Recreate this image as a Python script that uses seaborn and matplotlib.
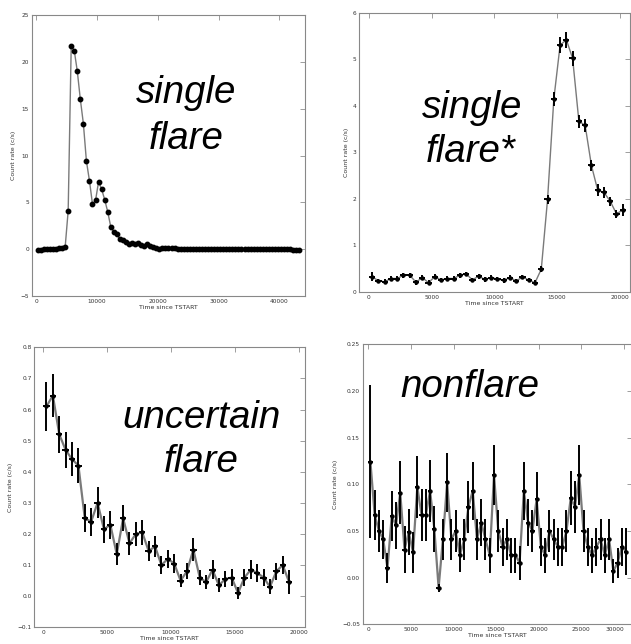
import numpy as np
import pandas as pd
import matplotlib
matplotlib.use("Agg")
import matplotlib.pyplot as plt
import seaborn as sns

# ---------------- data ----------------
# panel 1: single flare (500 s bins)
t1 = np.arange(250, 43251, 500)
rate1 = [-0.10, -0.05, 0.00, 0.00, 0.05, 0.00, 0.00, 0.10, 0.10, 0.20,
         4.10, 21.7, 21.2, 19.0, 16.0, 13.4, 9.4, 7.3, 4.8, 5.2,
         7.2, 6.4, 5.3, 4.0, 2.4, 1.85, 1.6, 1.05, 1.0, 0.75,
         0.60, 0.65, 0.60, 0.70, 0.45, 0.35, 0.55, 0.30, 0.20, 0.10,
         0.05,
         0.10, 0.10, 0.10, 0.10, 0.08, 0.05, 0.05, 0.05, 0.05, 0.05,
         0.05, 0.05, 0.05, 0.05, 0.03, 0.05, 0.05, 0.03, 0.03, 0.03,
         0.03, 0.05, 0.03, 0.03, 0.03, 0.00, 0.03, 0.03, 0.03, 0.03,
         0.03, 0.03, 0.03, 0.03, 0.03, 0.03, 0.03, 0.03, 0.02, 0.02,
         0.02, 0.00, 0.00, -0.05, -0.05, -0.10]

# panel 2: single flare*
t2 = np.arange(250, 20251, 500)
rate2 = [0.33, 0.24, 0.22, 0.29, 0.29, 0.36, 0.36, 0.21, 0.31, 0.20,
         0.33, 0.26, 0.29, 0.29, 0.36, 0.39, 0.26, 0.34, 0.27, 0.31,
         0.28, 0.25, 0.31, 0.24, 0.32, 0.26, 0.20, 0.49, 1.99, 4.14,
         5.30, 5.42, 5.02, 3.67, 3.58, 2.72, 2.19, 2.14, 1.95, 1.68, 1.76]
err2 = [0.10, 0.05, 0.05, 0.05, 0.05, 0.05, 0.05, 0.05, 0.05, 0.05,
        0.05, 0.05, 0.05, 0.05, 0.05, 0.05, 0.05, 0.05, 0.05, 0.05,
        0.05, 0.05, 0.05, 0.05, 0.05, 0.05, 0.05, 0.06, 0.10, 0.15,
        0.17, 0.17, 0.16, 0.14, 0.14, 0.12, 0.12, 0.11, 0.10, 0.08, 0.12]

# panel 3: uncertain flare
t3 = np.arange(250, 19251, 500)
rate3 = [0.61, 0.645, 0.52, 0.47, 0.44, 0.42, 0.25, 0.24, 0.30, 0.215,
         0.23, 0.135, 0.25, 0.17, 0.20, 0.205, 0.145, 0.16, 0.10, 0.12,
         0.105, 0.05, 0.08, 0.15, 0.06, 0.045, 0.085, 0.035, 0.055, 0.06,
         0.01, 0.06, 0.085, 0.075, 0.06, 0.03, 0.08, 0.10, 0.045]
err3 = [0.08, 0.07, 0.06, 0.057, 0.055, 0.055, 0.045, 0.045, 0.05, 0.043,
        0.045, 0.035, 0.042, 0.037, 0.04, 0.04, 0.033, 0.035, 0.03, 0.03,
        0.03, 0.022, 0.026, 0.036, 0.025, 0.022, 0.03, 0.022, 0.025, 0.027,
        0.02, 0.027, 0.03, 0.03, 0.028, 0.024, 0.028, 0.03, 0.038]

# panel 4: nonflare
t4 = np.arange(250, 30251, 500)
rate4 = [0.124, 0.067, 0.050, 0.041, 0.010, 0.066, 0.056, 0.091, 0.030, 0.049,
         0.027, 0.097, 0.067, 0.067, 0.093, 0.052, -0.011, 0.041, 0.102, 0.041,
         0.050, 0.024, 0.041, 0.076, 0.093, 0.041, 0.059, 0.041, 0.024, 0.110,
         0.050, 0.033, 0.041, 0.024, 0.024, 0.016, 0.093, 0.059, 0.050, 0.084,
         0.033, 0.024, 0.050, 0.041, 0.033, 0.033, 0.050, 0.085, 0.076, 0.110,
         0.050, 0.033, 0.024, 0.033, 0.041, 0.024, 0.041, 0.007, 0.016, 0.033,
         0.028]
err4 = [0.082, 0.027, 0.023, 0.021, 0.016, 0.027, 0.025, 0.034, 0.025, 0.025,
        0.022, 0.033, 0.028, 0.028, 0.033, 0.025, 0.004, 0.022, 0.032, 0.022,
        0.023, 0.018, 0.022, 0.028, 0.031, 0.022, 0.025, 0.022, 0.019, 0.032,
        0.023, 0.020, 0.022, 0.019, 0.019, 0.018, 0.031, 0.025, 0.023, 0.029,
        0.020, 0.019, 0.023, 0.022, 0.020, 0.020, 0.023, 0.029, 0.028, 0.032,
        0.023, 0.020, 0.019, 0.020, 0.022, 0.019, 0.022, 0.013, 0.016, 0.020,
        0.025]

labels = ["single\nflare", "single\nflare*", "uncertain\nflare", "nonflare"]

# ---------------- style ----------------
sns.set_style("white")
plt.rcParams['font.family'] = ['DejaVu Sans']

W, H = 631, 644
fig = plt.figure(figsize=(W / 100, H / 100), dpi=100)

def add_ax(l, r, t, b):
    return fig.add_axes([l / W, 1 - b / H, (r - l) / W, (b - t) / H])

axes = [add_ax(32, 305, 15, 296), add_ax(359.3, 630, 12.7, 292),
        add_ax(34.3, 305.3, 347.3, 627.3), add_ax(362.7, 631.5, 344.3, 624.3)]

panels = [
    (t1, rate1, None, (-700, 44200), (-5, 25), np.arange(-5, 26, 5), np.arange(0, 40001, 10000), 1.0),
    (t2, rate2, err2, (-774, 20830), (0, 6), np.arange(0, 7, 1), np.arange(0, 20001, 5000), 1.0),
    (t3, rate3, err3, (-705, 20517), (-0.1, 0.8), np.arange(-0.1, 0.81, 0.1), np.arange(0, 20001, 5000), 1.6),
    (t4, rate4, err4, (-656, 30880), (-0.05, 0.25), np.arange(-0.05, 0.26, 0.05), np.arange(0, 30001, 5000), 1.6),
]

for ax, (t, r, e, xl, yl, yt, xt, lw) in zip(axes, panels):
    df = pd.DataFrame({"t": t, "rate": r})
    sns.lineplot(data=df, x="t", y="rate", ax=ax, color="#7a7a7a", linewidth=lw,
                 errorbar=None, zorder=2)
    if e is None:
        ax.errorbar(t, r, xerr=250, fmt='o', color='black', ms=3.2, elinewidth=0.8,
                    capsize=0, zorder=3)
    else:
        ax.errorbar(t, r, xerr=250, yerr=e, fmt='o', color='black', ms=2.2,
                    elinewidth=1.4, capsize=0, zorder=3)
    ax.set_xlim(*xl)
    ax.set_ylim(*yl)
    ax.set_yticks(yt)
    ax.set_xticks(xt)
    ax.tick_params(direction='in', top=True, right=True, length=3.5, width=0.5,
                   labelsize=4.2, colors='#777777', labelcolor='#333333', pad=2)
    for s in ax.spines.values():
        s.set_color('#888888')
        s.set_linewidth(0.8)
    ax.set_xlabel("Time since TSTART", fontsize=4.5, color='#333333', labelpad=1)
    ax.set_ylabel("Count rate (c/s)", fontsize=4.5, color='#333333', labelpad=3)

# keep the last tick label of the right-hand panel inside the figure
fig.canvas.draw()
last = axes[3].get_xticklabels()[-1]
last.set_horizontalalignment('right')

# big italic annotations (pixel positions of each line's baseline centre)
big = dict(fontsize=27.7, style='italic', family=['Liberation Sans', 'DejaVu Sans'],
           ha='center', va='baseline', color='black')
lines = [("single", 186.5, 103.3), ("flare", 186, 149.3),
         ("single", 472, 118.3), ("flare*", 471, 161.7),
         ("uncertain", 201, 428.3), ("flare", 201, 471.7),
         ("nonflare", 470, 397.3)]
for s, x, y in lines:
    fig.text(x / W, 1 - y / H, s, **big)

fig.savefig("out.png", dpi=100)
